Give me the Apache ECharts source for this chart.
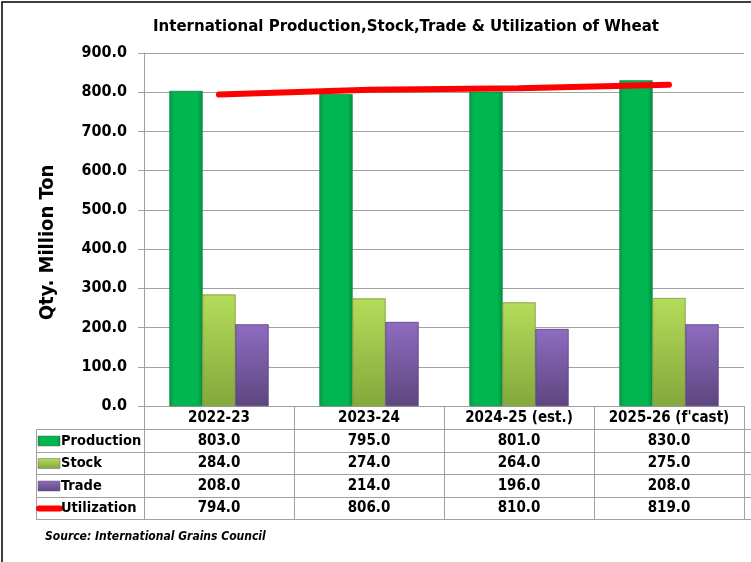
<!DOCTYPE html>
<html><head><meta charset="utf-8">
<script src="https://cdn.jsdelivr.net/npm/echarts@6/dist/echarts.min.js"></script>
<style>html,body{margin:0;padding:0;background:#fff}#c{width:751px;height:562px}</style>
</head><body><div id="c"></div>
<script>
const categories = ['2022-23','2023-24','2024-25 (est.)',"2025-26 (f'cast)"];
const production = [803.0, 795.0, 801.0, 830.0];
const stock = [284.0, 274.0, 264.0, 275.0];
const trade = [208.0, 214.0, 196.0, 208.0];
const utilization = [794.0, 806.0, 810.0, 819.0];
const yTicks = [0,100,200,300,400,500,600,700,800,900];

const FONT = 'DejaVu Sans Condensed, DejaVu Sans, sans-serif';
function grad(c1,c2,c3){
  return new echarts.graphic.LinearGradient(0,0,1,0,[
    {offset:0,color:c1},{offset:0.15,color:c2},{offset:0.85,color:c2},{offset:1,color:c3}]);
}
const gGreen = grad('#0a9a48','#00b650','#049040');
const gOlive = new echarts.graphic.LinearGradient(0,0,0,1,[{offset:0,color:'#b4dc5a'},{offset:1,color:'#84a83c'}]);
const gPurple = new echarts.graphic.LinearGradient(0,0,0,1,[{offset:0,color:'#8e6cc0'},{offset:1,color:'#5e4680'}]);

const chart = echarts.init(document.getElementById('c'), null, {renderer:'canvas'});
const GL=144, GR=7, GT=53, GB=406;
const option = {
  animation:false,
  backgroundColor:'#fff',
  title:{text:'International Production,Stock,Trade & Utilization of Wheat',left:401,top:13,textAlign:'center',
    textStyle:{fontFamily:FONT,fontWeight:'bold',fontSize:16.7,color:'#000'}},
  grid:{left:GL,right:GR,top:GT,bottom:562-GB,containLabel:false},
  xAxis:{type:'category',data:categories,
    axisLine:{show:true,lineStyle:{color:'#a0a0a0',width:1}},
    axisTick:{show:true,length:113,lineStyle:{color:'#a0a0a0'}},
    axisLabel:{fontFamily:FONT,fontWeight:'bold',fontSize:15,color:'#000',margin:5,interval:0}},
  yAxis:{type:'value',min:0,max:900,interval:100,
    name:'Qty. Million Ton',nameLocation:'middle',nameGap:86,
    nameTextStyle:{fontFamily:FONT,fontWeight:'bold',fontSize:20,color:'#000',padding:[0,26,0,0]},
    axisLine:{show:true,lineStyle:{color:'#a0a0a0'}},
    axisTick:{show:true,length:6,lineStyle:{color:'#a0a0a0'}},
    splitLine:{lineStyle:{color:'#a0a0a0',width:1}},
    axisLabel:{fontFamily:FONT,fontWeight:'bold',fontSize:16,color:'#000',margin:17,
      formatter:v=>v.toFixed(1)}},
  series:[
    {name:'Production',type:'bar',data:production,barGap:'0%',barCategoryGap:'34%',
      itemStyle:{color:gGreen,borderColor:'#0a8a40',borderWidth:0.5}},
    {name:'Stock',type:'bar',data:stock,itemStyle:{color:gOlive,borderColor:'#7a9a3a',borderWidth:0.5}},
    {name:'Trade',type:'bar',data:trade,itemStyle:{color:gPurple,borderColor:'#5a4080',borderWidth:0.5}},
    {name:'Utilization',type:'line',data:utilization,symbol:'none',smooth:false,
      lineStyle:{color:'#ff0000',width:6,cap:'round'},z:5}
  ]
};
chart.setOption(option);

// Data table under the axis
const rows = [
  {name:'Production',vals:production,key:'bar',color:gGreen},
  {name:'Stock',vals:stock,key:'bar',color:gOlive},
  {name:'Trade',vals:trade,key:'bar',color:gPurple},
  {name:'Utilization',vals:utilization,key:'line',color:'#ff0000'}
];
const rowY = [429,452,474,497,519];
const TL = 36;
const elems = [];
elems.push({type:'rect',shape:{x:2,y:2,width:800,height:600},style:{fill:null,stroke:'#000',lineWidth:1.5},silent:true});
rowY.forEach(y=>elems.push({type:'line',shape:{x1:TL,y1:y+0.5,x2:751,y2:y+0.5},style:{stroke:'#a0a0a0',lineWidth:1}}));
elems.push({type:'line',shape:{x1:TL+0.5,y1:429,x2:TL+0.5,y2:519},style:{stroke:'#a0a0a0',lineWidth:1}});
rows.forEach((r,i)=>{
  const yc = (rowY[i]+rowY[i+1])/2+0.5;
  if(r.key==='bar'){
    elems.push({type:'rect',shape:{x:38,y:yc-5,width:22,height:10},style:{fill:r.color,stroke:'#666',lineWidth:0.5}});
  } else {
    elems.push({type:'line',shape:{x1:39,y1:yc,x2:60,y2:yc},style:{stroke:r.color,lineWidth:6,lineCap:'round'}});
  }
  elems.push({type:'text',style:{text:r.name,x:61,y:yc,textVerticalAlign:'middle',font:'bold 14.5px '+FONT,fill:'#000'}});
  r.vals.forEach((v,j)=>{
    const x = chart.convertToPixel({xAxisIndex:0}, j);
    elems.push({type:'text',style:{text:v.toFixed(1),x:x,y:yc,textAlign:'center',textVerticalAlign:'middle',font:'bold 15px '+FONT,fill:'#000'}});
  });
});
elems.push({type:'text',style:{text:'Source: International Grains Council',x:45,y:537,textVerticalAlign:'middle',font:'italic bold 12px '+FONT,fill:'#000'}});
chart.setOption({graphic:{elements:elems}});
</script></body></html>
